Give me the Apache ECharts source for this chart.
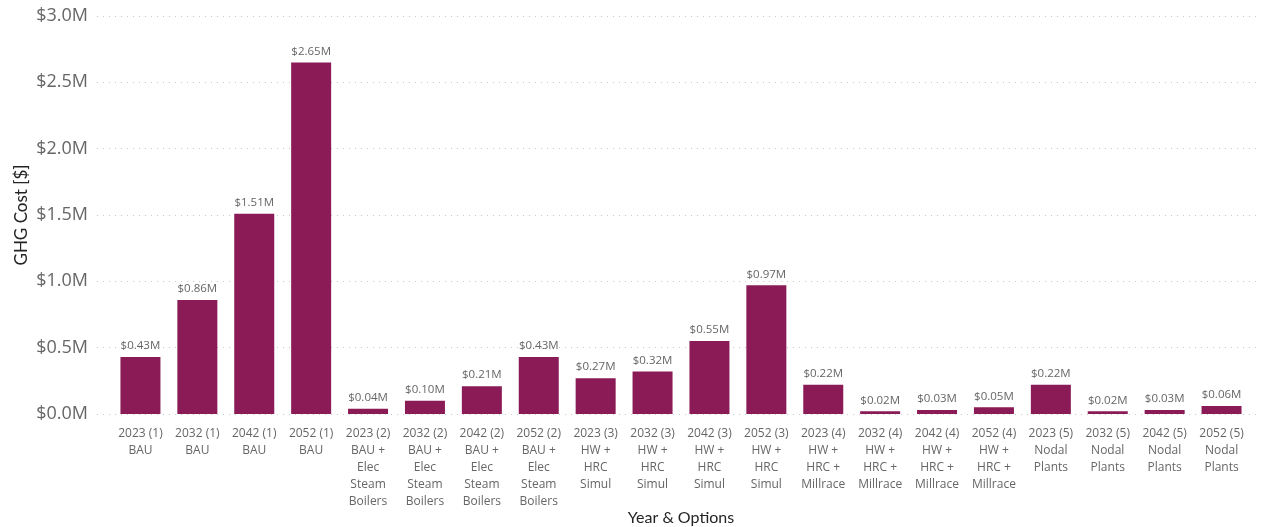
<!DOCTYPE html>
<html><head><meta charset="utf-8">
<script src="https://cdn.jsdelivr.net/npm/echarts@6/dist/echarts.min.js"></script>
<style>html,body{margin:0;padding:0;background:#fff}#c{width:1264px;height:527px}</style>
</head><body><div id="c"></div>
<script>
const categories = [
  "2023 (1)\nBAU","2032 (1)\nBAU","2042 (1)\nBAU","2052 (1)\nBAU",
  "2023 (2)\nBAU +\nElec\nSteam\nBoilers","2032 (2)\nBAU +\nElec\nSteam\nBoilers","2042 (2)\nBAU +\nElec\nSteam\nBoilers","2052 (2)\nBAU +\nElec\nSteam\nBoilers",
  "2023 (3)\nHW +\nHRC\nSimul","2032 (3)\nHW +\nHRC\nSimul","2042 (3)\nHW +\nHRC\nSimul","2052 (3)\nHW +\nHRC\nSimul",
  "2023 (4)\nHW +\nHRC +\nMillrace","2032 (4)\nHW +\nHRC +\nMillrace","2042 (4)\nHW +\nHRC +\nMillrace","2052 (4)\nHW +\nHRC +\nMillrace",
  "2023 (5)\nNodal\nPlants","2032 (5)\nNodal\nPlants","2042 (5)\nNodal\nPlants","2052 (5)\nNodal\nPlants"
];
const ghgCostM = [0.43,0.86,1.51,2.65,0.04,0.10,0.21,0.43,0.27,0.32,0.55,0.97,0.22,0.02,0.03,0.05,0.22,0.02,0.03,0.06];
const yMin = 0, yMax = 3, yStep = 0.5;
const yAxisTitle = "GHG Cost [$]";
const xAxisTitle = "Year & Options";

const chart = echarts.init(document.getElementById('c'));
chart.setOption({
  animation:false,
  grid:[
    {left:112,right:14,top:16,bottom:113,outerBoundsMode:'none',containLabel:false},
    {left:97,right:4,top:16,bottom:113,outerBoundsMode:'none',containLabel:false}
  ],
  xAxis:[{
    type:'category', data:categories, gridIndex:0,
    name:xAxisTitle, nameLocation:'middle', nameGap:96, nameMoveOverlap:false,
    nameTextStyle:{fontFamily:'Lato',fontSize:16,color:'#252423'},
    axisLine:{show:false}, axisTick:{show:false},
    axisLabel:{interval:0,fontFamily:'Open Sans',fontSize:12,color:'#666',lineHeight:17,margin:11}
  },{
    type:'value', gridIndex:1, show:false, min:0, max:1
  }],
  yAxis:[{
    type:'value', gridIndex:0, min:yMin, max:yMax, interval:yStep,
    name:yAxisTitle, nameLocation:'middle', nameGap:82, nameRotate:90, nameMoveOverlap:false,
    nameTextStyle:{fontFamily:'Lato',fontSize:17,color:'#252423'},
    axisLabel:{fontFamily:'Open Sans',fontSize:18,color:'#666',margin:24,
      formatter:v=>'$'+v.toFixed(1)+'M'},
    splitLine:{show:false}
  },{
    type:'value', gridIndex:1, min:yMin, max:yMax, interval:yStep,
    axisLabel:{show:false}, axisLine:{show:false}, axisTick:{show:false},
    splitLine:{lineStyle:{type:[1,5],color:'#c8c8c8',width:1}}
  }],
  series:[{
    type:'bar', data:ghgCostM, barWidth:40, xAxisIndex:0, yAxisIndex:0, z:3,
    itemStyle:{color:'#8B1B57'},
    label:{show:true,position:'top',distance:5,fontFamily:'Open Sans',fontSize:11.5,color:'#666',
      formatter:p=>'$'+p.value.toFixed(2)+'M'}
  }]
});
</script></body></html>
